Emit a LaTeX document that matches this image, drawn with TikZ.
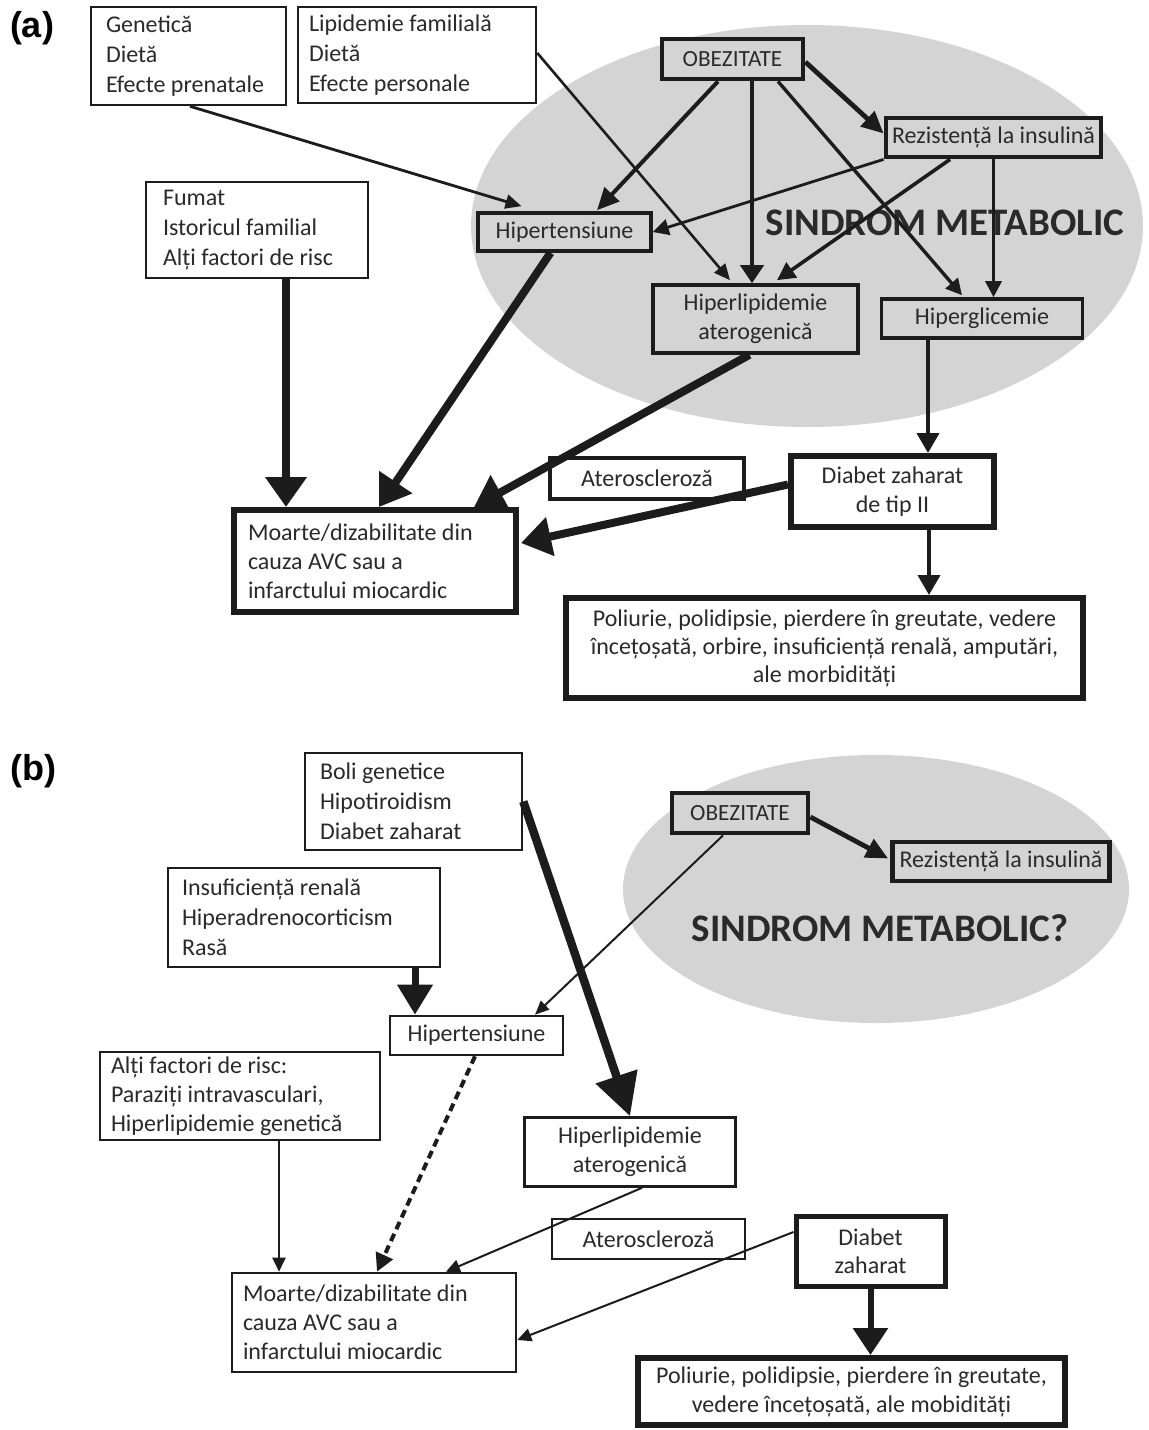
\documentclass[tikz,border=0pt]{standalone}
\usepackage{fontspec}
\setmainfont{Carlito}
\newfontfamily\labfont{Liberation Sans}
\usetikzlibrary{arrows.meta,calc}
\definecolor{ell}{HTML}{D4D4D4}
\definecolor{ink}{HTML}{1C1C1C}
\definecolor{txt}{HTML}{2A2A2A}
\tikzset{
  base/.style={draw=ink, text=txt, rectangle, inner sep=0pt, font=\fontsize{12}{15}\selectfont},
  gbox/.style={base, fill=ell, align=center},
  cbox/.style={base, align=center},
  lbox/.style={base, align=flush left},
  arr/.style 2 args={draw=ink, -{Triangle[length=#1, width=#2]}},
  panellab/.style={text=black, font=\labfont\bfseries\fontsize{18}{18}\selectfont},
  bigtitle/.style={text=txt, font=\bfseries\fontsize{19.5}{20}\selectfont}
}
\begin{document}
\begin{tikzpicture}[x=0.5pt,y=-0.5pt]
\useasboundingbox (0,0) rectangle (1148,1430);
\fill[white] (0,0) rectangle (1148,1430);

% ---------------- panel (a) ----------------
\fill[ell] (807,226) ellipse [x radius=168pt, y radius=100.5pt];
\node[panellab] (la) at (32,28) {(a)};
\node[bigtitle] (sma) at (945,223) {SINDROM METABOLIC};

\node[lbox, line width=1.3pt, text width=82.5pt, inner xsep=7.5pt, minimum height=49pt] (A1) at (188.5,56) {Genetică\\Dietă\\Efecte prenatale};
\node[lbox, line width=1.3pt, text width=108pt, inner xsep=5.5pt, minimum height=48pt] (A2) at (417,55) {Lipidemie familială\\Dietă\\Efecte personale};
\node[lbox, line width=1.3pt, text width=94pt, inner xsep=8.5pt, minimum height=48pt] (FU) at (257,230) {Fumat\\Istoricul familial\\Alți factori de risc};

\node[gbox, line width=2.4pt, minimum width=70.5pt, minimum height=20pt, font=\fontsize{11.6}{13}\selectfont] (OBa) at (732.5,59) {OBEZITATE};
\node[gbox, line width=2.4pt, minimum width=107.5pt, minimum height=19.5pt] (RZa) at (993.5,137.5) {Rezistență la insulină};
\node[gbox, line width=1.8pt, minimum width=86.5pt, minimum height=19pt] (HTa) at (564.5,232) {Hipertensiune};
\node[gbox, line width=1.8pt, minimum width=102.5pt, minimum height=34pt, font=\fontsize{12}{14.5}\selectfont] (HLa) at (755.5,319) {Hiperlipidemie\\aterogenică};
\node[gbox, line width=1.8pt, minimum width=100.5pt, minimum height=19.5pt] (HGa) at (982,318.5) {Hiperglicemie};

\node[cbox, line width=2pt, minimum width=97pt, minimum height=20.5pt] (ATa) at (647,478.5) {Ateroscleroză};
\node[cbox, line width=3pt, minimum width=101.5pt, minimum height=35.5pt, font=\fontsize{12}{14.5}\selectfont] (DZa) at (892.5,491.5) {Diabet zaharat\\de tip II};
\node[lbox, line width=3pt, text width=127pt, inner xsep=7pt, minimum height=51pt, font=\fontsize{12}{14.5}\selectfont] (MOa) at (375,561) {Moarte/dizabilitate din\\cauza AVC sau a\\infarctului miocardic};
\node[cbox, line width=3pt, minimum width=258.5pt, minimum height=50pt, font=\fontsize{12}{14}\selectfont] (POa) at (824.5,648) {Poliurie, polidipsie, pierdere în greutate, vedere\\încețoșată, orbire, insuficiență renală, amputări,\\ale morbidități};

% arrows (a)
\draw[arr={8pt}{7pt}, line width=1.4pt] ($(A1.south)+(1.5,0)$) -- ($(HTa.north)+(-43,-5)$);
\draw[arr={8pt}{7pt}, line width=1.3pt] ($(A2.east)+(0,-2)$) -- ($(HLa.north)+(-25.5,-3)$);
\draw[arr={11pt}{10pt}, line width=2pt] ($(OBa.south)+(-14.5,0)$) -- ($(HTa.north)+(32.5,-1)$);
\draw[arr={9pt}{11.5pt}, line width=2pt] ($(OBa.south)+(19.5,0)$) -- ($(HLa.north)+(-3.5,0)$);
\draw[arr={8pt}{8pt}, line width=1.7pt] ($(OBa.south)+(45.5,0)$) -- ($(HGa.north)+(-20,-2)$);
\draw[arr={11pt}{10pt}, line width=2.4pt] ($(OBa.east)+(0,3)$) -- ($(RZa.west)+(0,-4)$);
\draw[arr={8pt}{8pt}, line width=1.4pt] (RZa.south west) -- (HTa.east);
\draw[arr={9pt}{9pt}, line width=1.8pt] ($(RZa.south)+(-43.5,0)$) -- ($(HLa.north)+(21.5,-3)$);
\draw[arr={8pt}{8pt}, line width=1.6pt] (RZa.south) -- ($(HGa.north)+(11.5,0)$);
\draw[arr={15pt}{20pt}, line width=4pt] ($(FU.south)+(29,0)$) -- ($(MOa.north)+(-89,0)$);
\draw[arr={15pt}{19pt}, line width=4pt] ($(HTa.south)+(-14,0)$) -- ($(MOa.north)+(4,0)$);
\draw[arr={15pt}{19pt}, line width=4pt] ($(HLa.south)+(-6,0)$) -- ($(MOa.north)+(99,0)$);
\draw[arr={15pt}{19pt}, line width=4pt] ($(DZa.west)+(0,-7)$) -- ($(MOa.east)+(2,-18)$);
\draw[arr={10pt}{11pt}, line width=2pt] ($(HGa.south)+(-54,0)$) -- ($(DZa.north)+(35.5,0)$);
\draw[arr={10pt}{11pt}, line width=2pt] ($(DZa.south)+(36.5,0)$) -- ($(POa.north)+(104.5,0)$);

% ---------------- panel (b) ----------------
\fill[ell] (876,889) ellipse [x radius=126.5pt, y radius=67pt];
\node[panellab] (lb) at (33.5,771.5) {(b)};
\node[bigtitle] (smb) at (880,928) {SINDROM METABOLIC?};

\node[lbox, line width=1.3pt, text width=93.5pt, inner xsep=7.5pt, minimum height=48.5pt] (B1) at (413.5,801.5) {Boli genetice\\Hipotiroidism\\Diabet zaharat};
\node[lbox, line width=1.3pt, text width=122pt, inner xsep=7pt, minimum height=49.5pt] (B2) at (304,917.5) {Insuficiență renală\\Hiperadrenocorticism\\Rasă};
\node[lbox, line width=1.2pt, text width=129pt, inner xsep=5.5pt, minimum height=44pt, font=\fontsize{12}{14.5}\selectfont] (B3) at (240,1096) {Alți factori de risc:\\Paraziți intravasculari,\\Hiperlipidemie genetică};

\node[gbox, line width=2.4pt, minimum width=68pt, minimum height=20pt, font=\fontsize{11.6}{13}\selectfont] (OBb) at (740,813) {OBEZITATE};
\node[gbox, line width=2.4pt, minimum width=108.5pt, minimum height=19.5pt] (RZb) at (1001,861.5) {Rezistență la insulină};
\node[cbox, line width=1.3pt, minimum width=86.5pt, minimum height=19.5pt] (HTb) at (476.5,1035.5) {Hipertensiune};
\node[cbox, line width=1.3pt, minimum width=105.5pt, minimum height=34.5pt, font=\fontsize{12}{14.5}\selectfont] (HLb) at (630,1152) {Hiperlipidemie\\aterogenică};
\node[cbox, line width=1.3pt, minimum width=96.5pt, minimum height=20pt] (ATb) at (648.5,1239) {Ateroscleroză};
\node[cbox, line width=2.5pt, minimum width=74.5pt, minimum height=35pt, font=\fontsize{12}{14}\selectfont] (DZb) at (870.5,1251) {Diabet\\zaharat};
\node[lbox, line width=1.3pt, text width=131pt, inner xsep=5.5pt, minimum height=49.5pt, font=\fontsize{12}{14.5}\selectfont] (MOb) at (374,1322.5) {Moarte/dizabilitate din\\cauza AVC sau a\\infarctului miocardic};
\node[cbox, line width=3pt, minimum width=213.5pt, minimum height=33.5pt, font=\fontsize{12}{14.5}\selectfont] (POb) at (851.5,1391.5) {Poliurie, polidipsie, pierdere în greutate,\\vedere încețoșată, ale mobidități};

% arrows (b)
\draw[arr={21pt}{21pt}, line width=4.2pt] (B1.east) -- (HLb.north);
\draw[arr={15pt}{17pt}, line width=3.5pt] ($(B2.south)+(111,0)$) -- ($(HTb.north)+(-61.5,0)$);
\draw[arr={7pt}{6pt}, line width=1pt] ($(OBb.south)+(-17,0)$) -- ($(HTb.north)+(58.5,0)$);
\draw[arr={11pt}{10pt}, line width=2.4pt] ($(OBb.east)+(0,4)$) -- ($(RZb.west)+(-2,-3)$);
\draw[arr={9pt}{9pt}, line width=2pt, dash pattern=on 4pt off 2.5pt] ($(HTb.south)+(-1.5,0)$) -- ($(MOb.north)+(3,0)$);
\draw[arr={7pt}{6.5pt}, line width=1pt] ($(B3.south)+(39,0)$) -- ($(MOb.north)+(-95,0)$);
\draw[arr={7pt}{6.5pt}, line width=1pt] ($(HLb.south)+(12,0)$) -- ($(MOb.north)+(72,0)$);
\draw[arr={7pt}{6.5pt}, line width=1pt] ($(DZb.west)+(0,-19)$) -- ($(MOb.east)+(0,17.5)$);
\draw[arr={13.5pt}{17pt}, line width=3pt] (DZb.south) -- ($(POb.north)+(19,0)$);
\end{tikzpicture}
\end{document}
